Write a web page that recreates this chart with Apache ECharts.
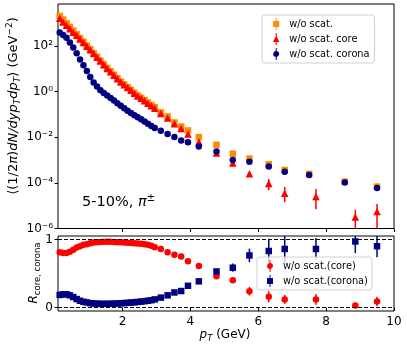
<!DOCTYPE html>
<html>
<head>
<meta charset="utf-8">
<script src="https://cdn.jsdelivr.net/npm/echarts@6/dist/echarts.min.js"></script>
<style>
  html, body { margin: 0; padding: 0; background: #fff; }
  #chart { width: 407px; height: 349px; }
</style>
</head>
<body>
<div id="chart"></div>
<script>
// pT bins (GeV): dense low-pT part shared by every series
const ptDense = [0.15, 0.25, 0.35, 0.45, 0.55, 0.65, 0.75, 0.85, 0.95, 1.05,
  1.15, 1.25, 1.35, 1.45, 1.55, 1.65, 1.75, 1.85, 1.95, 2.05,
  2.15, 2.25, 2.35, 2.45, 2.55, 2.65, 2.75, 2.85, 2.95];
// high-pT bins: total/corona spectra vs core spectrum and ratios
const ptHighA = [3.13, 3.33, 3.53, 3.73, 3.93, 4.25, 4.77, 5.25, 5.74, 6.31, 6.78, 7.5, 8.55, 9.5];
const ptHighB = [3.13, 3.33, 3.53, 3.73, 3.93, 4.25, 4.77, 5.25, 5.74, 6.31, 6.78, 7.7, 8.86, 9.5];

// spectra (GeV^-2)
const yieldAll = [2100, 1450, 1000, 692, 479, 331, 224, 155, 105, 72.4,
  49.0, 33.9, 22.9, 15.8, 11.0, 7.76, 5.50, 3.89, 2.75, 2.09,
  1.58, 1.20, 0.891, 0.676, 0.537, 0.427, 0.331, 0.263, 0.209,
  0.123, 0.0813, 0.0447, 0.0295, 0.0200, 0.0102, 4.68e-3, 1.91e-3, 1.17e-3, 6.6e-4, 3.7e-4, 2.5e-4, 1.15e-4, 6.9e-5];
const yieldCore = [1660, 1148, 813, 575, 407, 295, 204, 145, 97.7, 69.2,
  46.8, 32.4, 21.9, 15.1, 10.5, 7.41, 5.25, 3.72, 2.63, 2.00,
  1.51, 1.15, 0.851, 0.646, 0.513, 0.398, 0.309, 0.240, 0.186,
  0.110, 0.0708, 0.0389, 0.0240, 0.0141, 6.3e-3, 2.04e-3, 7.4e-4, 2.5e-4, 9.5e-5, 3.5e-5, 2.5e-5, 3.2e-6, 5.6e-6];
const yieldCorona = [398, 309, 229, 145, 87.1, 47.9, 25.7, 14.5, 8.13, 4.37,
  2.51, 1.70, 1.17, 0.871, 0.676, 0.525, 0.407, 0.309, 0.240, 0.186,
  0.145, 0.115, 0.0933, 0.0759, 0.0617, 0.0490, 0.0389, 0.0309, 0.0257,
  0.0195, 0.0141, 0.0102, 7.2e-3, 6.0e-3, 3.98e-3, 2.4e-3, 1.02e-3, 8.5e-4, 5.2e-4, 3.1e-4, 2.2e-4, 1.05e-4, 5.9e-5];
// core spectrum error bars
const coreErrPt = [5.74, 6.31, 6.78, 7.7, 8.86, 9.5];
const coreErrLo = [2.2e-4, 4.7e-5, 1.4e-5, 7e-6, 3e-7, 3e-7];
const coreErrHi = [2.8e-4, 1.5e-4, 6.6e-5, 5.4e-5, 6.6e-6, 1.2e-5];

// fractions
const ratioCore = [0.81, 0.80, 0.80, 0.82, 0.85, 0.88, 0.90, 0.92, 0.93, 0.945,
  0.955, 0.96, 0.963, 0.965, 0.965, 0.965, 0.963, 0.96, 0.958, 0.955,
  0.952, 0.948, 0.944, 0.94, 0.935, 0.93, 0.92, 0.907, 0.885,
  0.86, 0.81, 0.775, 0.75, 0.68, 0.61, 0.46, 0.40, 0.24, 0.16, 0.12, 0.12, 0.03, 0.09];
const ratioCorona = [0.185, 0.195, 0.195, 0.18, 0.155, 0.125, 0.10, 0.085, 0.075, 0.065,
  0.06, 0.057, 0.055, 0.055, 0.055, 0.056, 0.058, 0.06, 0.063, 0.066,
  0.07, 0.074, 0.078, 0.083, 0.088, 0.094, 0.10, 0.108, 0.12,
  0.146, 0.18, 0.222, 0.243, 0.32, 0.385, 0.53, 0.585, 0.765, 0.83, 0.86, 0.86, 0.97, 0.90];
const ratioErrPt = [4.77, 5.25, 5.74, 6.31, 6.78, 7.7, 8.86, 9.5];
const ratioCoreErr = [0.02, 0.03, 0.065, 0.08, 0.065, 0.08, 0.02, 0.07];
const ratioCoronaErr = [0.03, 0.06, 0.10, 0.18, 0.20, 0.16, 0.17, 0.16];

const xTicks = [2, 4, 6, 8, 10];

const ptA = ptDense.concat(ptHighA);
const ptB = ptDense.concat(ptHighB);
const FONT = 'DejaVu Sans';
const ORANGE = '#ff8c00', RED = '#ff0000', NAVY = '#000080';

const zip = (xs, ys) => xs.map((x, i) => [x, ys[i]]);
const supMap = { '-': '\u207b', '0': '\u2070', '1': '\u00b9', '2': '\u00b2', '3': '\u00b3',
  '4': '\u2074', '5': '\u2075', '6': '\u2076', '7': '\u2077', '8': '\u2078', '9': '\u2079' };

function errRender(params, api) {
  const p1 = api.coord([api.value(0), api.value(1)]);
  const p2 = api.coord([api.value(0), api.value(2)]);
  return {
    type: 'line',
    shape: { x1: p1[0], y1: p1[1], x2: p2[0], y2: p2[1] },
    style: { stroke: api.visual('color'), lineWidth: 1.5 }
  };
}

// legend icons: marker with a vertical error bar through it
const iconSquare = 'path://M4.5,0H5.5V3H8V9H5.5V12H4.5V9H2V3H4.5Z';
const iconTri = 'path://M4.5,0H5.5V3.6L8.2,9H5.5V12H4.5V9H1.8L4.5,3.6Z';
const iconCircle = 'path://M4.5,0H5.5V3.05A3,3 0 0 1 5.5,8.95V12H4.5V8.95A3,3 0 0 1 4.5,3.05Z';

const chart = echarts.init(document.getElementById('chart'));

const axisText = { fontFamily: FONT, fontSize: 12, color: '#000' };
const tickStyle = { length: 3.5, lineStyle: { color: '#000', width: 1 } };

const legendBase = {
  orient: 'vertical',
  itemWidth: 16,
  itemHeight: 12,
  itemGap: 3,
  backgroundColor: 'rgba(255,255,255,0.8)',
  borderColor: '#d0d0d0',
  borderWidth: 1,
  borderRadius: 3,
  textStyle: { fontFamily: FONT, fontSize: 9.8, color: '#000' }
};

const option = {
  animation: false,
  backgroundColor: '#fff',
  grid: [
    { left: 58, top: 4, width: 336, height: 224.5, show: true, borderColor: '#000', borderWidth: 1 },
    { left: 58, top: 236, width: 336, height: 75, show: true, borderColor: '#000', borderWidth: 1 }
  ],
  xAxis: [
    {
      gridIndex: 0, type: 'value', min: 0.1, max: 10,
      axisLine: { show: false }, splitLine: { show: false },
      axisTick: Object.assign({ customValues: xTicks }, tickStyle),
      axisLabel: { show: false, customValues: xTicks }
    },
    {
      gridIndex: 1, type: 'value', min: 0.1, max: 10,
      axisLine: { show: false }, splitLine: { show: false },
      axisTick: Object.assign({ customValues: xTicks }, tickStyle),
      axisLabel: Object.assign({ customValues: xTicks, margin: 5 }, axisText)
    }
  ],
  yAxis: [
    {
      gridIndex: 0, type: 'log', logBase: 10, min: 1e-6, max: 7000, interval: 2,
      axisLine: { show: false }, splitLine: { show: false },
      axisTick: tickStyle,
      axisLabel: Object.assign({
        margin: 5,
        showMaxLabel: false,
        formatter: function (v) {
          const l = Math.log10(v);
          const e = Math.round(l);
          if (Math.abs(l - e) > 1e-6) return '';
          return '10' + String(e).split('').map(c => supMap[c]).join('');
        }
      }, axisText)
    },
    {
      gridIndex: 1, type: 'value', min: -0.05, max: 1.05,
      axisLine: { show: false }, splitLine: { show: false },
      axisTick: Object.assign({ customValues: [0, 1] }, tickStyle),
      axisLabel: Object.assign({ customValues: [0, 1], margin: 5 }, axisText)
    }
  ],
  legend: [
    Object.assign({}, legendBase, {
      left: 262, top: 15, padding: [3, 5, 3, 11],
      data: [
        { name: 'w/o scat.', icon: iconSquare },
        { name: 'w/o scat. core', icon: iconTri },
        { name: 'w/o scat. corona', icon: iconCircle }
      ]
    }),
    Object.assign({}, legendBase, {
      left: 257, top: 257, padding: [3, 4, 3, 10],
      data: [
        { name: 'w/o scat.(core)', icon: iconCircle },
        { name: 'w/o scat.(corona)', icon: iconSquare }
      ]
    })
  ],
  graphic: [
    {
      type: 'text', x: 82, y: 202,
      style: {
        text: '5-10%, {i|\u03c0}{s|\u00b1}',
        fontFamily: FONT, fontSize: 14.5, fill: '#000', verticalAlign: 'middle',
        rich: {
          i: { fontFamily: FONT, fontSize: 14.5, fontStyle: 'italic', lineHeight: 18 },
          s: { fontFamily: FONT, fontSize: 10, verticalAlign: 'top', lineHeight: 18 }
        }
      }
    },
    {
      type: 'text', x: 14, y: 106, rotation: Math.PI / 2,
      style: {
        text: '{n|\u27e8(1/2}{i|\u03c0}{n|)}{i|dN/dyp}{b|T}{i|dp}{b|T}{n|\u27e9 (GeV}{p|\u22122}{n|)}',
        align: 'center', verticalAlign: 'middle', fill: '#000',
        rich: {
          n: { fontFamily: FONT, fontSize: 13, lineHeight: 17, verticalAlign: 'middle' },
          i: { fontFamily: FONT, fontSize: 13, fontStyle: 'italic', lineHeight: 17, verticalAlign: 'middle' },
          b: { fontFamily: FONT, fontSize: 9, fontStyle: 'italic', lineHeight: 17, verticalAlign: 'bottom' },
          p: { fontFamily: FONT, fontSize: 9, lineHeight: 17, verticalAlign: 'top' }
        }
      }
    },
    {
      type: 'text', x: 34, y: 273, rotation: Math.PI / 2,
      style: {
        text: '{i|R}{b|core, corona}',
        align: 'center', verticalAlign: 'middle', fill: '#000',
        rich: {
          i: { fontFamily: FONT, fontSize: 12, fontStyle: 'italic', lineHeight: 16, verticalAlign: 'middle' },
          b: { fontFamily: FONT, fontSize: 8.5, lineHeight: 16, verticalAlign: 'bottom' }
        }
      }
    },
    {
      type: 'text', x: 225, y: 335,
      style: {
        text: '{i|p}{b|T}{n| (GeV)}',
        align: 'center', verticalAlign: 'middle', fill: '#000',
        rich: {
          n: { fontFamily: FONT, fontSize: 12, lineHeight: 16, verticalAlign: 'middle' },
          i: { fontFamily: FONT, fontSize: 12, fontStyle: 'italic', lineHeight: 16, verticalAlign: 'middle' },
          b: { fontFamily: FONT, fontSize: 8.5, fontStyle: 'italic', lineHeight: 16, verticalAlign: 'bottom' }
        }
      }
    }
  ],
  series: [
    {
      name: 'w/o scat.', type: 'scatter', xAxisIndex: 0, yAxisIndex: 0,
      symbol: 'rect', symbolSize: 6.5, itemStyle: { color: ORANGE, opacity: 1 },
      data: zip(ptA, yieldAll)
    },
    {
      name: 'core-err', type: 'custom', xAxisIndex: 0, yAxisIndex: 0, clip: true,
      itemStyle: { color: RED }, encode: { x: 0, y: [1, 2] },
      renderItem: errRender,
      data: coreErrPt.map((x, i) => [x, coreErrLo[i], coreErrHi[i]])
    },
    {
      name: 'w/o scat. core', type: 'scatter', xAxisIndex: 0, yAxisIndex: 0,
      symbol: 'triangle', symbolSize: 7.5, itemStyle: { color: RED, opacity: 1 },
      data: zip(ptB, yieldCore)
    },
    {
      name: 'w/o scat. corona', type: 'scatter', xAxisIndex: 0, yAxisIndex: 0,
      symbol: 'circle', symbolSize: 6.5, itemStyle: { color: NAVY, opacity: 1 },
      data: zip(ptA, yieldCorona)
    },
    {
      name: 'rcore-err', type: 'custom', xAxisIndex: 1, yAxisIndex: 1, clip: true,
      itemStyle: { color: RED }, encode: { x: 0, y: [1, 2] },
      renderItem: errRender,
      data: ratioErrPt.map((x, i) => {
        const y = ratioCore[ptB.indexOf(x)];
        return [x, y - ratioCoreErr[i], y + ratioCoreErr[i]];
      })
    },
    {
      name: 'w/o scat.(core)', type: 'scatter', xAxisIndex: 1, yAxisIndex: 1,
      symbol: 'circle', symbolSize: 6.5, itemStyle: { color: RED, opacity: 1 },
      data: zip(ptB, ratioCore),
      markLine: {
        silent: true, symbol: 'none', label: { show: false },
        lineStyle: { color: '#000', width: 1, type: [4, 2] },
        data: [{ yAxis: 0 }, { yAxis: 1 }]
      }
    },
    {
      name: 'rcorona-err', type: 'custom', xAxisIndex: 1, yAxisIndex: 1, clip: true,
      itemStyle: { color: NAVY }, encode: { x: 0, y: [1, 2] },
      renderItem: errRender,
      data: ratioErrPt.map((x, i) => {
        const y = ratioCorona[ptB.indexOf(x)];
        return [x, y - ratioCoronaErr[i], y + ratioCoronaErr[i]];
      })
    },
    {
      name: 'w/o scat.(corona)', type: 'scatter', xAxisIndex: 1, yAxisIndex: 1,
      symbol: 'rect', symbolSize: 6.5, itemStyle: { color: NAVY, opacity: 1 },
      data: zip(ptB, ratioCorona)
    }
  ]
};

chart.setOption(option);
</script>
</body>
</html>
